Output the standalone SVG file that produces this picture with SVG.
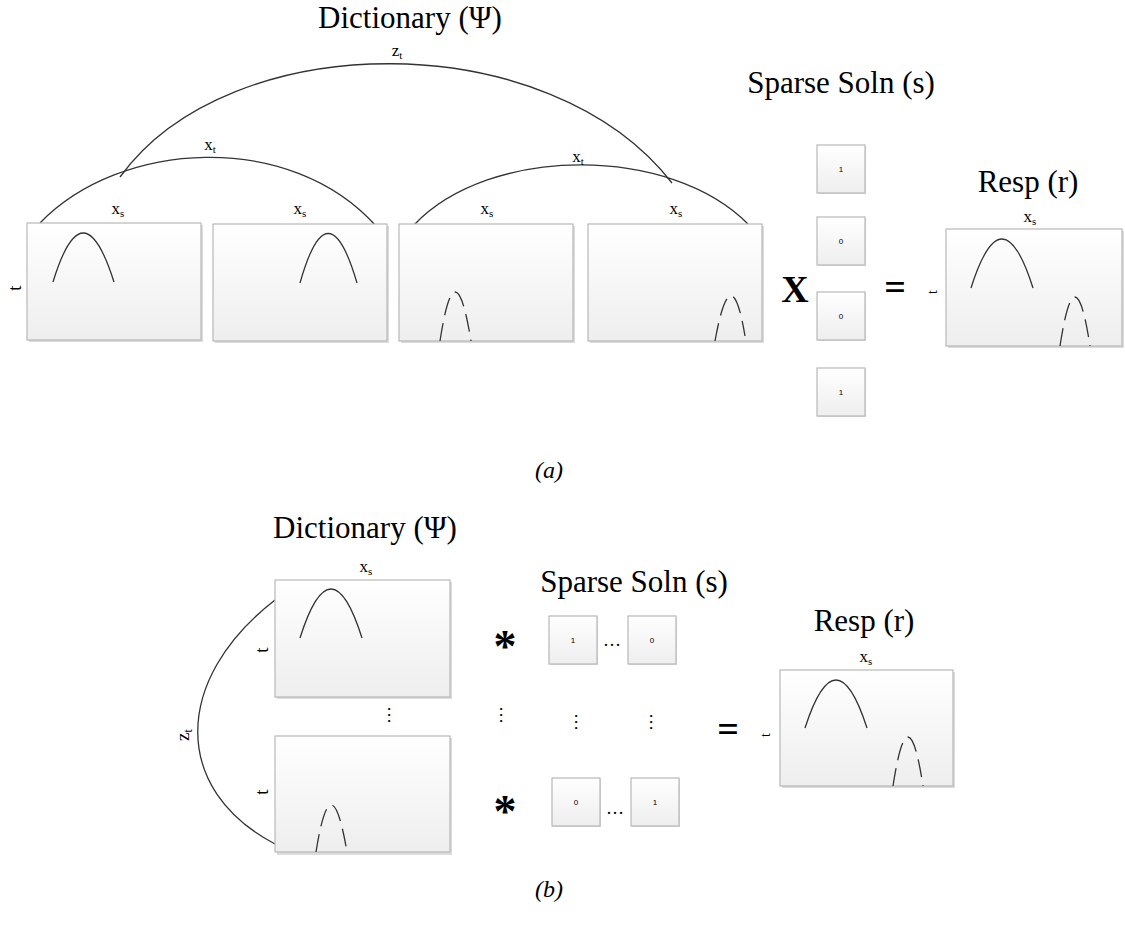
<svg xmlns="http://www.w3.org/2000/svg" width="1125" height="932" viewBox="0 0 1125 932">
<defs>
<linearGradient id="g" x1="0" y1="0" x2="0" y2="1"><stop offset="0" stop-color="#ffffff"/><stop offset="1" stop-color="#eeeeee"/></linearGradient>
<style>
.box{fill:url(#g);stroke:#b8b8b8;stroke-width:1.2}
.sh{fill:#dcdcdc}
.c{fill:none;stroke:#333;stroke-width:1.3}
.d{fill:none;stroke:#333;stroke-width:1.3;stroke-dasharray:18 8}
.title{font-family:"Liberation Serif",serif;font-size:31px;fill:#000;text-anchor:middle}
.lab{font-family:"Liberation Serif",serif;font-size:17px;fill:#000;text-anchor:middle}
.sub{font-size:11px}
.small{font-family:"Liberation Sans",sans-serif;font-size:8px;fill:#000;text-anchor:middle}
.op{font-family:"Liberation Serif",serif;font-weight:bold;font-size:38px;fill:#000;text-anchor:middle}
.ast{font-family:"Liberation Serif",serif;font-weight:bold;font-size:46px;fill:#000;text-anchor:middle}
.cap{font-family:"Liberation Serif",serif;font-style:italic;font-size:24px;fill:#000;text-anchor:middle}
.dots{font-family:"Liberation Serif",serif;font-size:18px;fill:#000;text-anchor:middle}
</style>
</defs>

<!-- (a) -->
<text class="title" x="410" y="28">Dictionary (Ψ)</text>
<text class="title" x="841" y="93">Sparse Soln (s)</text>
<text class="title" x="1028" y="192">Resp (r)</text>

<g id="connectors">
<path class="c" d="M120,177 C230,25 550,25 672,183"/>
<path class="c" d="M40,223 C120,140 290,130 376,226"/>
<path class="c" d="M414,225 C490,145 670,145 748,224"/>
<path class="c" d="M275,600 C172,680 172,790 275,844"/>
</g>
<text class="lab" x="397" y="56">z<tspan class="sub" dy="3">t</tspan></text>
<text class="lab" x="210" y="150">x<tspan class="sub" dy="3">t</tspan></text>
<text class="lab" x="578" y="162">x<tspan class="sub" dy="3">t</tspan></text>

<text class="lab" style="font-size:19px" transform="translate(21,288) rotate(-90)">t</text>

<g id="a-box1">
<rect class="sh" x="29" y="225" width="174" height="117"/>
<rect class="box" x="27" y="223" width="174" height="117"/>
<path class="c" d="M53,282 Q83,184 114,282"/>
<text class="lab" x="118" y="214">x<tspan class="sub" dy="3">s</tspan></text>
</g>
<g id="a-box2">
<rect class="sh" x="215" y="226" width="174" height="117"/>
<rect class="box" x="213" y="224" width="174" height="117"/>
<path class="c" d="M300,283 Q328,184 357,283"/>
<text class="lab" x="300" y="214">x<tspan class="sub" dy="3">s</tspan></text>
</g>
<g id="a-box3">
<rect class="sh" x="401" y="226" width="174" height="117"/>
<rect class="box" x="399" y="224" width="174" height="117"/>
<path class="d" d="M440,341 Q455,243 471,341"/>
<text class="lab" x="487" y="214">x<tspan class="sub" dy="3">s</tspan></text>
</g>
<g id="a-box4">
<rect class="sh" x="590" y="226" width="174" height="117"/>
<rect class="box" x="588" y="224" width="174" height="117"/>
<path class="d" d="M715,341 Q731,253 745,336"/>
<text class="lab" x="676" y="214">x<tspan class="sub" dy="3">s</tspan></text>
</g>

<text class="op" x="795" y="302">X</text>

<g id="a-s1"><rect class="sh" x="818" y="146" width="48" height="48"/><rect class="box" x="817" y="145" width="48" height="48"/><text class="small" x="841" y="172">1</text></g>
<g id="a-s2"><rect class="sh" x="818" y="218" width="48" height="48"/><rect class="box" x="817" y="217" width="48" height="48"/><text class="small" x="841" y="244">0</text></g>
<g id="a-s3"><rect class="sh" x="818" y="293" width="48" height="48"/><rect class="box" x="817" y="292" width="48" height="48"/><text class="small" x="841" y="319">0</text></g>
<g id="a-s4"><rect class="sh" x="818" y="369" width="48" height="48"/><rect class="box" x="817" y="368" width="48" height="48"/><text class="small" x="841" y="395">1</text></g>

<text class="op" x="895" y="300">=</text>
<text class="lab" style="font-size:14px" transform="translate(937,292) rotate(-90)">t</text>

<g id="a-resp">
<rect class="sh" x="948" y="231" width="176" height="117"/>
<rect class="box" x="946" y="229" width="176" height="117"/>
<path class="c" d="M971,288 Q1002,190 1033,288"/>
<path class="d" d="M1060,346 Q1075,248 1090,346"/>
<text class="lab" x="1030" y="222">x<tspan class="sub" dy="3">s</tspan></text>
</g>

<text class="cap" x="549" y="478">(a)</text>

<!-- (b) -->
<text class="title" x="365" y="538">Dictionary (Ψ)</text>
<text class="title" x="634" y="592">Sparse Soln (s)</text>
<text class="title" x="864" y="631">Resp (r)</text>

<text class="lab" x="366" y="572">x<tspan class="sub" dy="3">s</tspan></text>
<text class="lab" style="font-size:19px" transform="translate(189,735) rotate(-90)">z<tspan class="sub" style="font-size:12px" dy="3">t</tspan></text>

<g id="b-box1">
<rect class="sh" x="277" y="582" width="175" height="117"/>
<rect class="box" x="275" y="580" width="175" height="117"/>
<path class="c" d="M300,638 Q331,540 362,638"/>
<text class="lab" style="font-size:19px" transform="translate(268,650) rotate(-90)">t</text>
</g>
<text class="dots" x="394" y="721" transform="rotate(90 394 715)">…</text>
<g id="b-box2">
<rect class="sh" x="277" y="738" width="175" height="117"/>
<rect class="box" x="275" y="736" width="175" height="116"/>
<path class="d" d="M316,852 Q331,758 347,852"/>
<text class="lab" style="font-size:19px" transform="translate(268,792) rotate(-90)">t</text>
</g>

<text class="ast" x="505" y="662">*</text>
<text class="ast" x="505" y="827">*</text>
<text class="dots" transform="rotate(90 506 715)" x="506" y="721">…</text>
<text class="dots" transform="rotate(90 581 722)" x="581" y="728">…</text>
<text class="dots" transform="rotate(90 656 722)" x="656" y="728">…</text>

<g id="b-s1"><rect class="sh" x="550" y="617" width="48" height="48"/><rect class="box" x="549" y="616" width="48" height="48"/><text class="small" x="573" y="643">1</text></g>
<text class="dots" x="612" y="646">…</text>
<g id="b-s2"><rect class="sh" x="629" y="617" width="48" height="48"/><rect class="box" x="628" y="616" width="48" height="48"/><text class="small" x="652" y="643">0</text></g>
<g id="b-s3"><rect class="sh" x="553" y="779" width="48" height="48"/><rect class="box" x="552" y="778" width="48" height="48"/><text class="small" x="576" y="805">0</text></g>
<text class="dots" x="615" y="814">…</text>
<g id="b-s4"><rect class="sh" x="632" y="779" width="48" height="48"/><rect class="box" x="631" y="778" width="48" height="48"/><text class="small" x="655" y="805">1</text></g>

<text class="op" x="728" y="742">=</text>
<text class="lab" style="font-size:14px" transform="translate(770,735) rotate(-90)">t</text>

<g id="b-resp">
<rect class="sh" x="782" y="672" width="173" height="116"/>
<rect class="box" x="780" y="670" width="173" height="116"/>
<path class="c" d="M805,728 Q836,632 867,728"/>
<path class="d" d="M893,786 Q908,688 923,786"/>
<text class="lab" x="866" y="662">x<tspan class="sub" dy="3">s</tspan></text>
</g>

<text class="cap" x="549" y="897">(b)</text>
</svg>
